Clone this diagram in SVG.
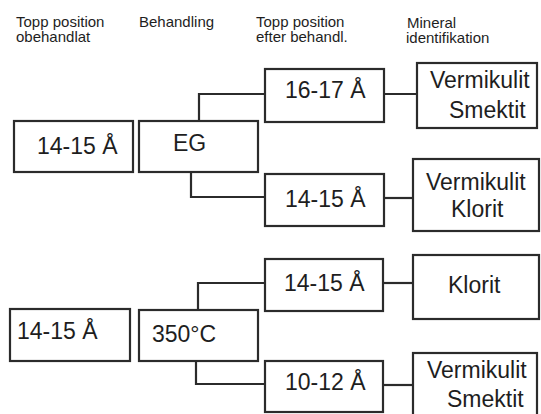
<svg xmlns="http://www.w3.org/2000/svg" width="541" height="414" viewBox="0 0 541 414">
<style>
.box{fill:#fff;stroke:#2b2b2b;stroke-width:2.2}
.ln{fill:none;stroke:#2b2b2b;stroke-width:2.2}
.t{font-family:"Liberation Sans",Arial,sans-serif;font-size:23px;fill:#1e1e1e}
.h{font-family:"Liberation Sans",Arial,sans-serif;font-size:15px;fill:#1e1e1e}
</style>
<rect width="541" height="414" fill="#fff"/>
<g id="headers">
<text class="h" x="16" y="27">Topp position</text>
<text class="h" x="16" y="42">obehandlat</text>
<text class="h" x="139" y="27">Behandling</text>
<text class="h" x="256" y="27">Topp position</text>
<text class="h" x="256" y="42">efter behandl.</text>
<text class="h" x="407" y="28">Mineral</text>
<text class="h" x="406" y="43">identifikation</text>
</g>
<g id="connectors">
<polyline class="ln" points="199,121 199,94 265,94"/>
<polyline class="ln" points="191,172 191,197 265,197"/>
<line class="ln" x1="384" y1="94" x2="417" y2="94"/>
<line class="ln" x1="384" y1="198" x2="413" y2="198"/>
<polyline class="ln" points="198,310 198,283 265,283"/>
<polyline class="ln" points="196,361 196,384 265,384"/>
<line class="ln" x1="383" y1="283" x2="413" y2="283"/>
<line class="ln" x1="383" y1="385" x2="413" y2="385"/>
</g>
<g id="n1"><rect class="box" x="14" y="121" width="119" height="51"/><text class="t" x="37" y="154">14-15 Å</text></g>
<g id="n2"><rect class="box" x="139" y="121" width="119" height="51"/><text class="t" x="173" y="151">EG</text></g>
<g id="n3"><rect class="box" x="265" y="69" width="119" height="53"/><text class="t" x="285" y="98">16-17 Å</text></g>
<g id="n4"><rect class="box" x="265" y="174" width="119" height="52"/><text class="t" x="285" y="207">14-15 Å</text></g>
<g id="n5"><rect class="box" x="417" y="63" width="120" height="65"/><text class="t" x="430" y="88">Vermikulit</text><text class="t" x="449" y="118">Smektit</text></g>
<g id="n6"><rect class="box" x="413" y="159" width="126" height="72"/><text class="t" x="426" y="190">Vermikulit</text><text class="t" x="451" y="217">Klorit</text></g>
<g id="n7"><rect class="box" x="10" y="309" width="120" height="52"/><text class="t" x="17" y="339">14-15 Å</text></g>
<g id="n8"><rect class="box" x="139" y="310" width="119" height="51"/><text class="t" x="152" y="342">350°C</text></g>
<g id="n9"><rect class="box" x="265" y="259" width="118" height="52"/><text class="t" x="284" y="291">14-15 Å</text></g>
<g id="n10"><rect class="box" x="265" y="361" width="118" height="51"/><text class="t" x="285" y="390">10-12 Å</text></g>
<g id="n11"><rect class="box" x="413" y="255" width="126" height="64"/><text class="t" x="448" y="293">Klorit</text></g>
<g id="n12"><rect class="box" x="413" y="353" width="124" height="64"/><text class="t" x="427" y="378">Vermikulit</text><text class="t" x="447" y="407">Smektit</text></g>
</svg>
